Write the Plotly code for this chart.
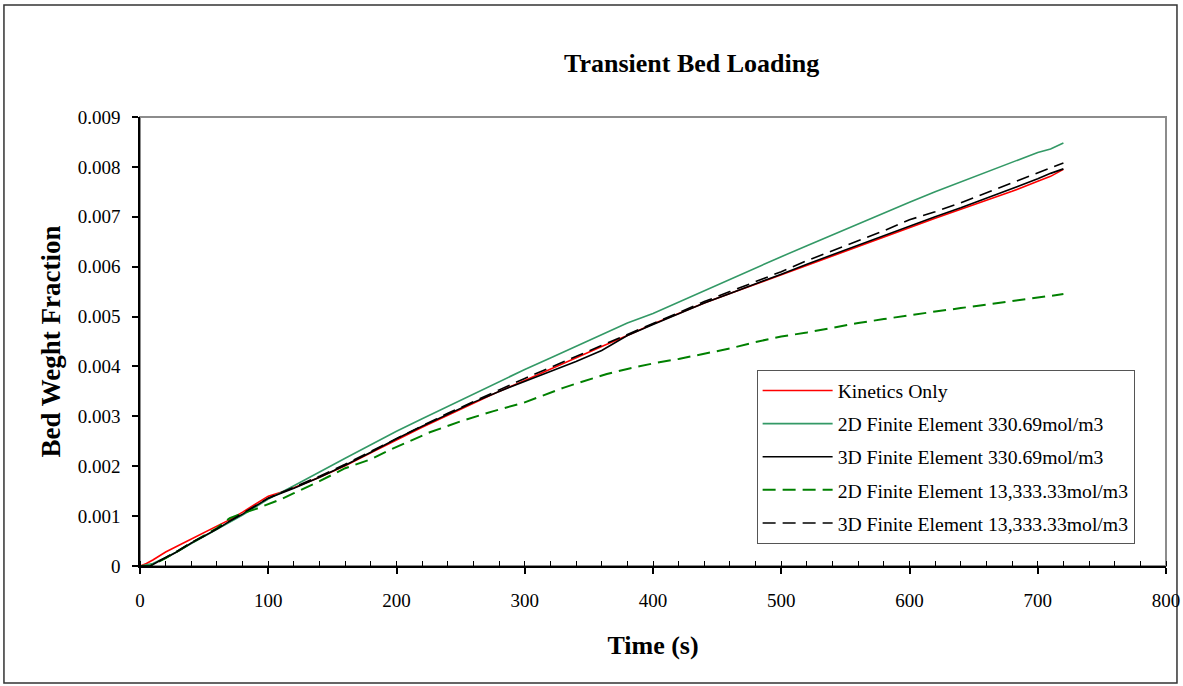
import plotly.graph_objects as go

# ---------------- data ----------------
kin_x = [0, 5, 10, 20, 30, 40, 50, 60, 70, 80, 90, 100, 110, 120, 140, 160, 180, 200, 220, 240,
         260, 280, 300, 320, 340, 360, 380, 400, 420, 440, 460, 480, 500, 520, 540, 560, 580,
         600, 620, 640, 660, 680, 700, 710, 720]
kin_y = [0, 0.00005, 0.00012, 0.00028, 0.00041, 0.00054, 0.00067, 0.00080, 0.00093, 0.00108,
         0.00124, 0.00140, 0.00148, 0.00157, 0.00178, 0.00201, 0.00227, 0.00253, 0.00278, 0.00302,
         0.00326, 0.00350, 0.00372, 0.00395, 0.00418, 0.00440, 0.00462, 0.00485, 0.00506, 0.00527,
         0.00546, 0.00565, 0.00584, 0.00603, 0.00622, 0.00641, 0.00660, 0.00679, 0.00697, 0.00715,
         0.00733, 0.00751, 0.00771, 0.00781, 0.00795]

fe2d_x = [0, 10, 20, 30, 40, 50, 60, 70, 80, 90, 100, 120, 140, 160, 180, 200, 220, 240, 260,
          280, 300, 320, 340, 360, 380, 400, 420, 440, 460, 480, 500, 520, 540, 560, 580, 600,
          620, 640, 660, 680, 700, 710, 720]
fe2d_y = [0, 0.00005, 0.00017, 0.00030, 0.00045, 0.00059, 0.00073, 0.00088, 0.00102, 0.00118,
          0.00134, 0.00161, 0.00189, 0.00216, 0.00243, 0.00270, 0.00295, 0.00320, 0.00345,
          0.00370, 0.00394, 0.00417, 0.00440, 0.00463, 0.00487, 0.00506, 0.00529, 0.00552,
          0.00575, 0.00598, 0.00620, 0.00642, 0.00664, 0.00686, 0.00708, 0.00729, 0.00750,
          0.00770, 0.00790, 0.00810, 0.00829, 0.00836, 0.00848]

fe3d_x = [0, 8, 15, 20, 30, 40, 50, 60, 70, 80, 90, 100, 110, 120, 140, 160, 180, 200, 220, 240,
          260, 280, 300, 320, 340, 360, 380, 400, 420, 440, 460, 480, 500, 520, 540, 560, 580,
          600, 620, 640, 660, 680, 700, 710, 720]
fe3d_y = [0, 0, 0.00010, 0.00016, 0.00030, 0.00046, 0.00060, 0.00074, 0.00090, 0.00104,
          0.00120, 0.00136, 0.00146, 0.00156, 0.00178, 0.00202, 0.00228, 0.00255, 0.00280,
          0.00304, 0.00328, 0.00350, 0.00370, 0.00390, 0.00410, 0.00432, 0.00462, 0.00484,
          0.00505, 0.00527, 0.00546, 0.00565, 0.00585, 0.00605, 0.00624, 0.00643, 0.00662,
          0.00682, 0.00700, 0.00718, 0.00737, 0.00756, 0.00776, 0.00787, 0.00796]

fe2d_hi_x = [0, 8, 20, 40, 60, 70, 80, 90, 100, 110, 120, 140, 160, 180, 195, 210, 226, 250,
             275, 300, 314, 330, 343, 364, 380, 400, 420, 440, 460, 480, 500, 520, 540, 560,
             580, 600, 620, 640, 660, 680, 700, 707, 720]
fe2d_hi_y = [0, 0, 0.00016, 0.00046, 0.00076, 0.00096, 0.00106, 0.00114, 0.00124, 0.00134,
             0.00146, 0.00170, 0.00196, 0.00214, 0.00233, 0.00250, 0.00268, 0.00290, 0.00310,
             0.00328, 0.00342, 0.00357, 0.00368, 0.00385, 0.00395, 0.00406, 0.00415, 0.00425,
             0.00436, 0.00449, 0.00460, 0.00468, 0.00478, 0.00487, 0.00495, 0.00503, 0.00510,
             0.00517, 0.00524, 0.00531, 0.00538, 0.00541, 0.00545]

fe3d_hi_x = [0, 8, 15, 20, 30, 40, 50, 60, 70, 80, 90, 100, 120, 140, 160, 180, 200, 220, 240,
             260, 280, 300, 320, 340, 360, 380, 400, 420, 440, 460, 480, 500, 520, 540, 560,
             580, 600, 620, 640, 660, 680, 700, 710, 720]
fe3d_hi_y = [0, 0, 0.00010, 0.00017, 0.00031, 0.00047, 0.00060, 0.00075, 0.00090, 0.00105,
             0.00120, 0.00136, 0.00158, 0.00180, 0.00204, 0.00230, 0.00256, 0.00281, 0.00306,
             0.00330, 0.00353, 0.00376, 0.00398, 0.00420, 0.00442, 0.00465, 0.00487, 0.00509,
             0.00530, 0.00550, 0.00570, 0.00590, 0.00612, 0.00632, 0.00652, 0.00672, 0.00694,
             0.00710, 0.00728, 0.00748, 0.00768, 0.00788, 0.00798, 0.00808]

series_names = ["Kinetics Only",
                "2D Finite Element 330.69mol/m3",
                "3D Finite Element 330.69mol/m3",
                "2D Finite Element 13,333.33mol/m3",
                "3D Finite Element 13,333.33mol/m3"]

x_ticks = [0, 100, 200, 300, 400, 500, 600, 700, 800]
y_ticks = [0, 0.001, 0.002, 0.003, 0.004, 0.005, 0.006, 0.007, 0.008, 0.009]
y_tick_text = ["0", "0.001", "0.002", "0.003", "0.004", "0.005", "0.006", "0.007", "0.008", "0.009"]

FONT = "Liberation Serif, Times New Roman, serif"

fig = go.Figure()
styles = [
    dict(color="#FF0000", width=1.6, dash="solid"),
    dict(color="#339966", width=1.6, dash="solid"),
    dict(color="#000000", width=1.6, dash="solid"),
    dict(color="#008000", width=2.0, dash="13px,7px"),
    dict(color="#000000", width=1.6, dash="13px,7px"),
]
data = [(kin_x, kin_y), (fe2d_x, fe2d_y), (fe3d_x, fe3d_y), (fe2d_hi_x, fe2d_hi_y), (fe3d_hi_x, fe3d_hi_y)]
for i, ((xs, ys), name, st) in enumerate(zip(data, series_names, styles)):
    fig.add_trace(go.Scatter(x=xs, y=ys, mode="lines", name=name, line=st,
                             legendgroup=f"g{i}"))

fig.update_layout(
    width=1183, height=686, autosize=False,
    paper_bgcolor="white", plot_bgcolor="white",
    margin=dict(l=140, r=17, t=117, b=120, autoexpand=False),
    font=dict(family=FONT, size=19, color="black"),
    showlegend=True,
    legend=dict(x=0.601, y=0.436, xanchor="left", yanchor="top",
                bgcolor="white", bordercolor="#555555", borderwidth=1,
                font=dict(family=FONT, size=19.7, color="black"),
                traceorder="grouped", tracegroupgap=4.5, itemwidth=70),
    xaxis=dict(range=[0, 800], tickvals=x_ticks, showgrid=False, zeroline=False, automargin=False,
               showline=True, linecolor="black", linewidth=1.5,
               ticks="outside", ticklen=6, tickcolor="black", tickwidth=1.5,
               minor=dict(dtick=20, ticks="inside", ticklen=5, tickcolor="black", tickwidth=1.2),
               tickfont=dict(family=FONT, size=19),
               ticklabelstandoff=10,
               title=dict(text="<b>Time (s)</b>", font=dict(family=FONT, size=26), standoff=26)),
    yaxis=dict(range=[0, 0.009], tickvals=y_ticks, ticktext=y_tick_text, showgrid=False,
               zeroline=False, automargin=False, showline=True, linecolor="black", linewidth=1.5,
               ticks="outside", ticklen=6, tickcolor="black", tickwidth=1.5,
               tickfont=dict(family=FONT, size=19),
               ticklabelstandoff=8,
               title=dict(text="<b>Bed Weght Fraction</b>", font=dict(family=FONT, size=27), standoff=9)),
    shapes=[
        # plot-area frame (grey)
        dict(type="rect", xref="paper", yref="paper", x0=0, x1=1, y0=0, y1=1,
             line=dict(color="#8c8c8c", width=2), layer="below"),
        # outer chart border
        dict(type="rect", xref="paper", yref="paper", x0=-0.1326, x1=1.0107, y0=-0.2606, y1=1.2494,
             line=dict(color="#333333", width=1.5), layer="below"),
    ],
    annotations=[
        dict(text="<b>Transient Bed Loading</b>", xref="paper", yref="paper", x=0.538, y=1.12,
             showarrow=False, font=dict(family=FONT, size=26, color="black"),
             xanchor="center", yanchor="middle"),
    ],
)

fig.write_html("out.html",
               config={"displayModeBar": False, "responsive": False},
               post_script="document.body.style.margin='0px';document.body.style.overflow='hidden';")
